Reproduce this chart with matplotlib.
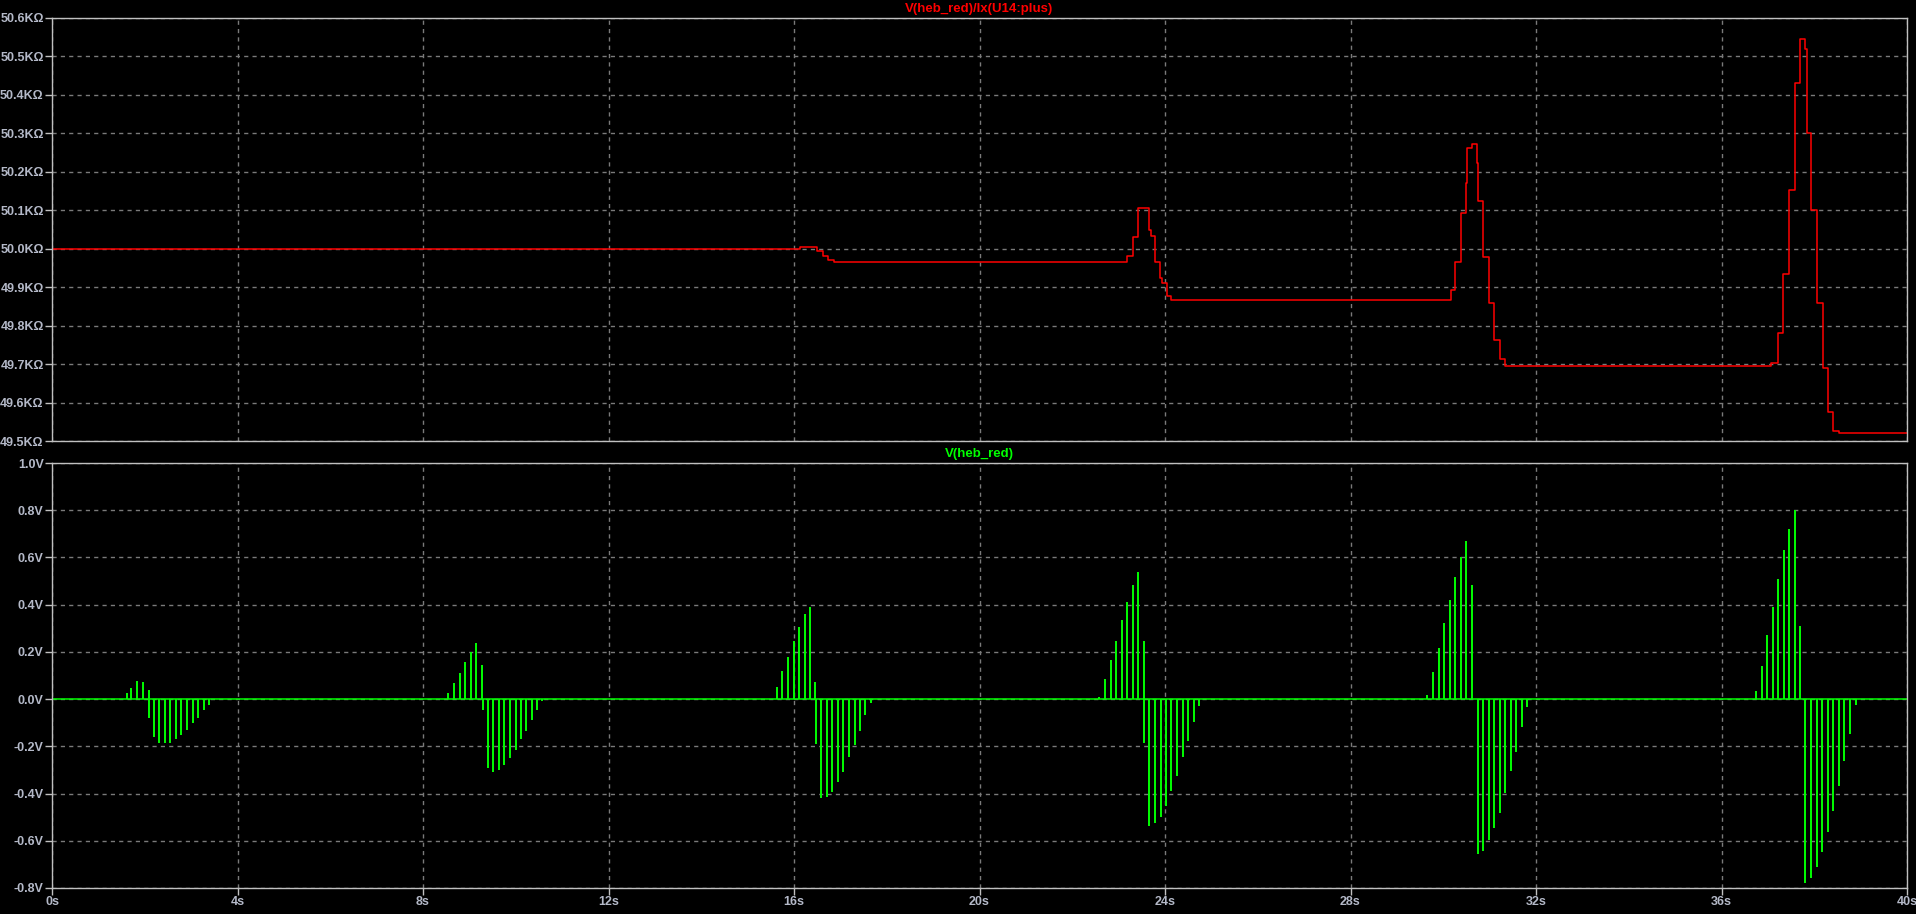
import matplotlib
matplotlib.use("Agg")
import matplotlib.pyplot as plt
import numpy as np

plt.rcParams['font.family'] = ['Liberation Sans', 'DejaVu Sans']

# Top trace: V(heb_red)/Ix(U14:plus), stepped (time s, value kOhm)
res_t = [0.00, 16.14, 16.50, 16.62, 16.74, 16.86,
         23.17, 23.32, 23.42, 23.66, 23.70, 23.78, 23.89, 23.94, 24.04, 24.13,
         30.16, 30.26, 30.39, 30.50, 30.51, 30.62, 30.73, 30.76, 30.86, 30.98,
         31.10, 31.22, 31.34,
         37.07, 37.21, 37.33, 37.46, 37.58, 37.69, 37.80, 37.84, 37.93, 38.05,
         38.18, 38.30, 38.41, 38.54, 40.00]
res_v = [50.000, 50.005, 49.995, 49.982, 49.970, 49.965,
         49.982, 50.031, 50.107, 50.049, 50.033, 49.966, 49.923, 49.912, 49.877, 49.866,
         49.893, 49.966, 50.092, 50.170, 50.261, 50.272, 50.222, 50.124, 49.978, 49.858,
         49.763, 49.713, 49.694,
         49.704, 49.782, 49.933, 50.153, 50.430, 50.545, 50.520, 50.302, 50.101, 49.858,
         49.689, 49.576, 49.527, 49.520, 49.520]

# Bottom trace: V(heb_red) spikes (time s, peak V)
spike_t = [
    1.61, 1.71, 1.84, 1.96, 2.085,
    2.10, 2.20, 2.31, 2.44, 2.55, 2.67, 2.79, 2.92, 3.03, 3.15, 3.27, 3.39,
    8.545, 8.675, 8.80, 8.91, 9.04, 9.15, 9.28,
    9.29, 9.395, 9.52, 9.64, 9.755, 9.875, 10.00, 10.11, 10.23, 10.34, 10.465, 10.57,
    15.64, 15.75, 15.88, 15.99, 16.11, 16.23, 16.35, 16.46,
    16.47, 16.59, 16.71, 16.83, 16.955, 17.06, 17.19, 17.31, 17.42, 17.54, 17.65,
    22.57, 22.71, 22.83, 22.95, 23.07, 23.19, 23.31, 23.42, 23.54,
    23.55, 23.66, 23.78, 23.91, 24.02, 24.14, 24.265, 24.38, 24.50, 24.625, 24.74,
    29.66, 29.785, 29.91, 30.02, 30.145, 30.26, 30.39, 30.50, 30.63,
    30.74, 30.865, 30.98, 31.095, 31.225, 31.34, 31.455, 31.575, 31.69, 31.81,
    36.74, 36.87, 36.99, 37.10, 37.22, 37.34, 37.46, 37.58, 37.70,
    37.81, 37.94, 38.06, 38.17, 38.29, 38.41, 38.535, 38.65, 38.77, 38.89,
]
spike_v = [
    0.027, 0.046, 0.077, 0.073, 0.040,
    -0.081, -0.159, -0.187, -0.187, -0.187, -0.170, -0.150, -0.130, -0.100, -0.081, -0.045, -0.024,
    0.024, 0.067, 0.109, 0.158, 0.200, 0.236, 0.144,
    -0.046, -0.293, -0.307, -0.300, -0.279, -0.251, -0.216, -0.170, -0.134, -0.089, -0.046, -0.010,
    0.050, 0.119, 0.177, 0.246, 0.305, 0.360, 0.389, 0.074,
    -0.191, -0.420, -0.416, -0.392, -0.350, -0.307, -0.247, -0.194, -0.134, -0.067, -0.018,
    0.010, 0.085, 0.166, 0.246, 0.335, 0.411, 0.483, 0.537, 0.246,
    -0.187, -0.536, -0.526, -0.498, -0.451, -0.389, -0.324, -0.247, -0.177, -0.098, -0.028,
    0.018, 0.114, 0.215, 0.321, 0.420, 0.516, 0.600, 0.668, 0.483,
    -0.655, -0.645, -0.597, -0.547, -0.481, -0.396, -0.303, -0.222, -0.119, -0.034,
    0.035, 0.140, 0.272, 0.392, 0.509, 0.630, 0.720, 0.800, 0.308,
    -0.780, -0.759, -0.712, -0.646, -0.562, -0.473, -0.367, -0.261, -0.147, -0.027,
]

x_ticks = list(range(0, 41, 4))
x_labels = [f"{v}s" for v in x_ticks]
res_ticks = [49.5, 49.6, 49.7, 49.8, 49.9, 50.0, 50.1, 50.2, 50.3, 50.4, 50.5, 50.6]
res_labels = [f"{v:.1f}KΩ" for v in res_ticks]
v_ticks = [-0.8, -0.6, -0.4, -0.2, 0.0, 0.2, 0.4, 0.6, 0.8, 1.0]
v_labels = [f"{v:.1f}V" for v in v_ticks]

txt_col = '#B4B9C8'
grid_col = '#7A7A7A'
spine_col = '#C0C0C0'

fig = plt.figure(figsize=(19.16, 9.14), dpi=100, facecolor='black')
ax1 = fig.add_axes([52 / 1916, 1 - 441 / 914, 1855 / 1916, 423 / 914])
ax2 = fig.add_axes([52 / 1916, 1 - 888 / 914, 1855 / 1916, 425 / 914])

for ax in (ax1, ax2):
    ax.set_facecolor('black')
    for s in ax.spines.values():
        s.set_color(spine_col)
        s.set_linewidth(1.0)
    ax.set_xlim(0, 40)
    ax.set_xticks(x_ticks)
    ax.grid(True, color=grid_col, linestyle=(0, (3, 3)), linewidth=1.0)
    ax.tick_params(colors=spine_col, length=5, width=1, pad=1)
    ax.set_axisbelow(True)

ax1.step(res_t, res_v, where='post', color='#FF0000', linewidth=1.1)
ax1.set_ylim(49.5, 50.6)
ax1.set_yticks(res_ticks)
ax1.set_yticklabels(res_labels, color=txt_col, fontsize=9, fontweight='bold')
ax1.tick_params(axis='x', length=0, labelbottom=False)
ax1.set_title("V(heb_red)/Ix(U14:plus)", color='#FF0000', fontsize=9.5,
              fontweight='bold', pad=4)

ax2.axhline(0, color='#00FF00', linewidth=1.1)
ax2.vlines(spike_t, 0, spike_v, color='#00FF00', linewidth=1.4)
ax2.set_ylim(-0.8, 1.0)
ax2.set_yticks(v_ticks)
ax2.set_yticklabels(v_labels, color=txt_col, fontsize=9, fontweight='bold')
ax2.set_xticklabels(x_labels, color=txt_col, fontsize=9, fontweight='bold')
ax2.set_title("V(heb_red)", color='#00FF00', fontsize=9.5, fontweight='bold', pad=4)

fig.savefig('out.png', dpi=100, facecolor='black')
